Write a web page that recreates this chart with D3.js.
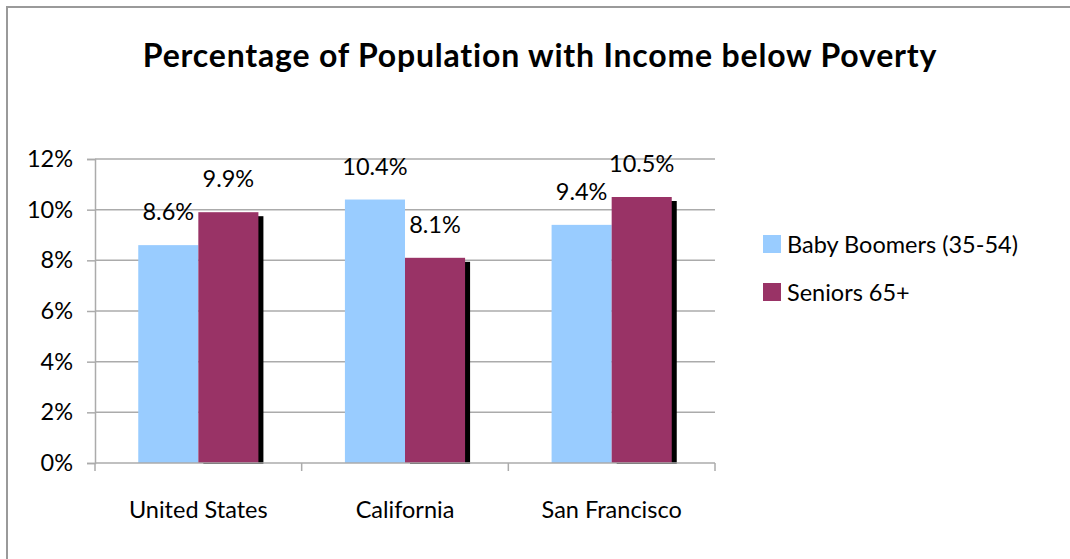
<!DOCTYPE html>
<html>
<head>
<meta charset="utf-8">
<script src="https://cdn.jsdelivr.net/npm/d3@7"></script>
<style>
  body { margin: 0; background: #fff; }
  svg { display: block; font-family: Lato, "DejaVu Sans", sans-serif; }
</style>
</head>
<body>
<svg id="chart" width="1070" height="559"></svg>
<script>
const categories = ['United States', 'California', 'San Francisco'];
const seriesNames = ['Baby Boomers (35-54)', 'Seniors 65+'];
const boomers = [8.6, 10.4, 9.4];
const seniors = [9.9, 8.1, 10.5];
const yTicks = [0, 2, 4, 6, 8, 10, 12];

const COLORS = ['#99ccff', '#993366'];
const FONT_SIZE = 23.5;
const MARGIN = { top: 159, left: 95, right: 355, bottom: 96 };
const W = 1070, H = 559;

const rows = categories.map((c, i) => ({ cat: c, values: [boomers[i], seniors[i]] }));

const svg = d3.select('#chart');

// chart frame (only top and left edges fall inside the window)
svg.append('rect')
  .attr('x', 7).attr('y', 7)
  .attr('width', W + 20).attr('height', H + 20)
  .attr('fill', 'none').attr('stroke', '#9a9a9a').attr('stroke-width', 2);

svg.append('text')
  .attr('x', 540).attr('y', 67)
  .attr('text-anchor', 'middle')
  .attr('font-size', 32).attr('font-weight', 'bold')
  .attr('letter-spacing', 0.8)
  .text('Percentage of Population with Income below Poverty');

const x0 = d3.scaleBand()
  .domain(categories)
  .range([MARGIN.left, W - MARGIN.right]);

const x1 = d3.scaleBand()
  .domain(d3.range(seriesNames.length))
  .range([0, x0.bandwidth()])
  .paddingOuter(0.72);

const y = d3.scaleLinear()
  .domain([0, 12])
  .range([H - MARGIN.bottom, MARGIN.top]);

// gridlines
svg.append('g')
  .selectAll('line')
  .data(yTicks.filter(d => d > 0))
  .join('line')
  .attr('x1', MARGIN.left).attr('x2', W - MARGIN.right)
  .attr('y1', d => y(d)).attr('y2', d => y(d))
  .attr('stroke', '#ababab').attr('stroke-width', 1.5);

// y axis
const axisY = d3.axisLeft(y)
  .tickValues(yTicks)
  .tickSize(8)
  .tickPadding(14)
  .tickFormat(d => d + '%');

svg.append('g')
  .attr('transform', `translate(${MARGIN.left},0)`)
  .call(axisY)
  .call(g => g.select('.domain').attr('stroke', '#ababab').attr('stroke-width', 1.5))
  .call(g => g.selectAll('.tick line').attr('stroke', '#ababab').attr('stroke-width', 1.5))
  .call(g => g.selectAll('.tick text')
    .attr('font-size', FONT_SIZE).attr('font-family', 'Lato, sans-serif').attr('fill', '#000'));

// bars
const groups = svg.append('g')
  .selectAll('g')
  .data(rows)
  .join('g')
  .attr('transform', d => `translate(${x0(d.cat)},0)`);

// shadow behind the seniors bars
groups.append('rect')
  .attr('x', x1(1) + 5)
  .attr('y', d => y(d.values[1]) + 4)
  .attr('width', x1.bandwidth())
  .attr('height', d => y(0) + 1 - y(d.values[1]) - 4)
  .attr('fill', '#000');

groups.selectAll('rect.bar')
  .data(d => d.values)
  .join('rect')
  .attr('class', 'bar')
  .attr('x', (d, i) => x1(i))
  .attr('y', d => y(d))
  .attr('width', x1.bandwidth())
  .attr('height', d => y(0) - y(d))
  .attr('fill', (d, i) => COLORS[i]);

groups.selectAll('text.val')
  .data(d => d.values)
  .join('text')
  .attr('class', 'val')
  .attr('x', (d, i) => x1(i) + x1.bandwidth() / 2)
  .attr('y', d => y(d) - 25)
  .attr('text-anchor', 'middle')
  .attr('font-size', FONT_SIZE)
  .text(d => d.toFixed(1) + '%');

// x axis
const xEdges = categories.map(c => x0(c)).concat([W - MARGIN.right]);
const gx = svg.append('g');
gx.append('line')
  .attr('x1', MARGIN.left).attr('x2', W - MARGIN.right)
  .attr('y1', y(0)).attr('y2', y(0))
  .attr('stroke', '#ababab').attr('stroke-width', 1.5);
gx.selectAll('line.tick')
  .data(xEdges)
  .join('line')
  .attr('class', 'tick')
  .attr('x1', d => d).attr('x2', d => d)
  .attr('y1', y(0)).attr('y2', y(0) + 8)
  .attr('stroke', '#ababab').attr('stroke-width', 1.5);
gx.selectAll('text')
  .data(categories)
  .join('text')
  .attr('x', d => x0(d) + x0.bandwidth() / 2)
  .attr('y', 518)
  .attr('text-anchor', 'middle')
  .attr('font-size', FONT_SIZE)
  .text(d => d);

// legend
const legend = svg.append('g')
  .selectAll('g')
  .data(seriesNames)
  .join('g')
  .attr('transform', (d, i) => `translate(763,${235 + i * 48})`);
legend.append('rect')
  .attr('width', 18).attr('height', 18)
  .attr('fill', (d, i) => COLORS[i]);
legend.append('text')
  .attr('x', 24).attr('y', 18)
  .attr('font-size', FONT_SIZE)
  .text(d => d);
</script>
</body>
</html>
